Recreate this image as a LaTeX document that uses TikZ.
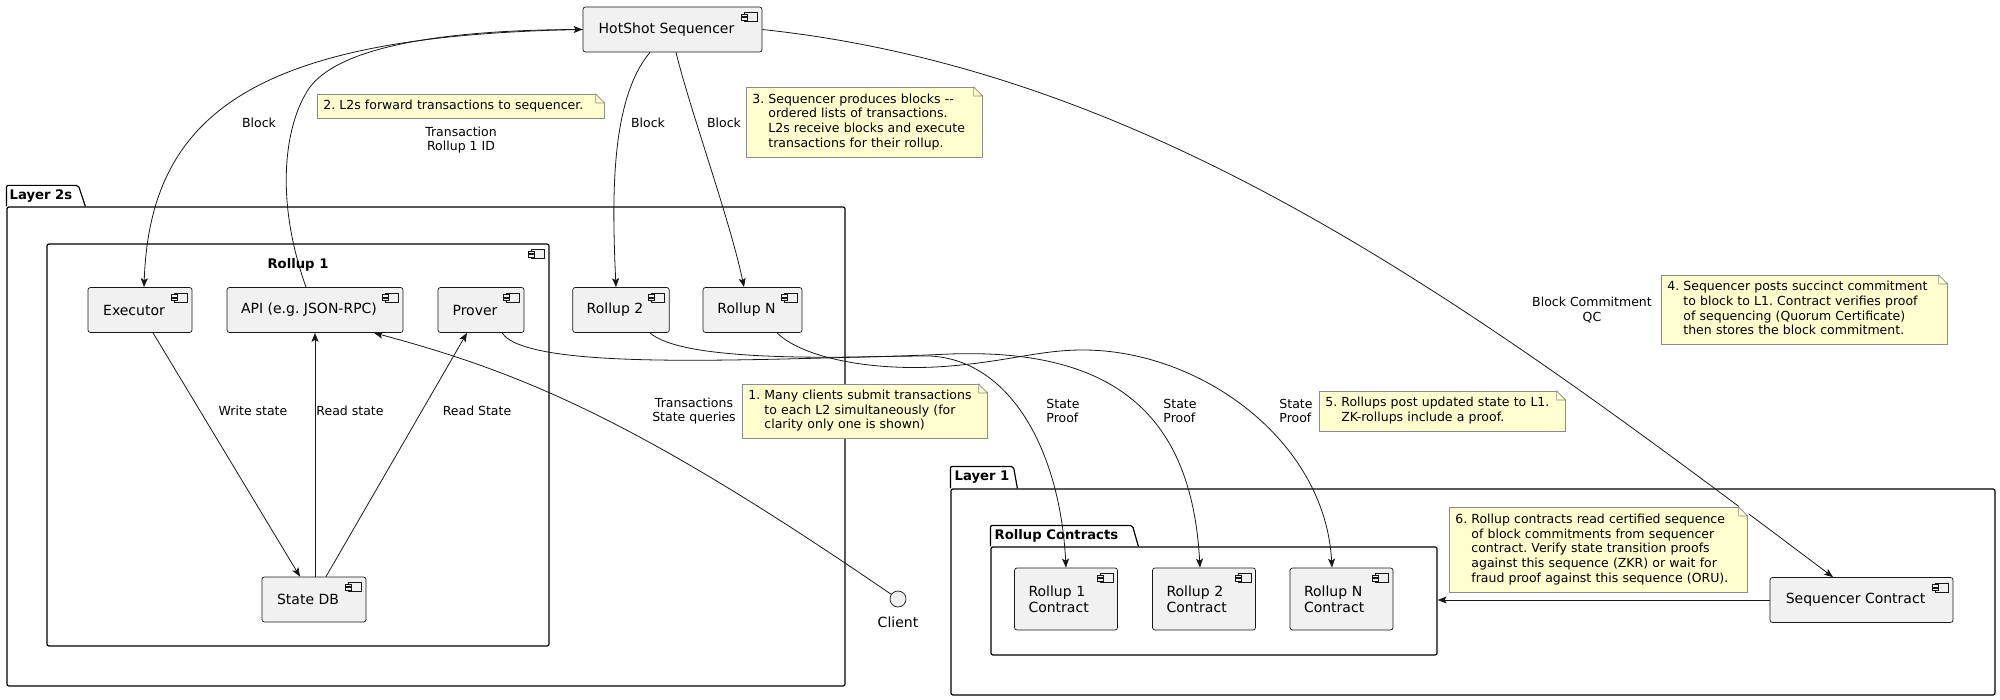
\documentclass[tikz,border=0pt]{standalone}
\usepackage{fontspec}
\setmainfont{DejaVu Sans}
\usepackage{xcolor}
\usetikzlibrary{calc, arrows.meta}

\definecolor{compfill}{HTML}{F1F1F1}
\definecolor{linecol}{HTML}{181818}
\definecolor{notefill}{HTML}{FEFECE}
\definecolor{notedraw}{HTML}{8C8C8C}

\newcommand{\compsize}{\fontsize{14}{16.4}\selectfont}
\newcommand{\notesize}{\fontsize{12.5}{14.7}\selectfont}
\newcommand{\titlesize}{\fontsize{13.2}{15}\selectfont\bfseries}

%% small component glyph in the top right corner of a box
\newcommand{\compicon}[1]{%
  \draw[linecol, line width=0.5pt, fill=compfill] ($(#1.north east)+(-18,6)$) rectangle ($(#1.north east)+(-5,15)$);
  \draw[linecol, line width=0.5pt, fill=compfill] ($(#1.north east)+(-21,7.5)$) rectangle ($(#1.north east)+(-15,10)$);
  \draw[linecol, line width=0.5pt, fill=compfill] ($(#1.north east)+(-21,11)$) rectangle ($(#1.north east)+(-15,13.5)$);
}

%% folded corner of a note
\newcommand{\notefold}[1]{%
  \fill[white] ($(#1.north east)+(-9,-1)$) -- ($(#1.north east)+(1,-1)$) -- ($(#1.north east)+(1,9)$) -- cycle;
  \draw[notedraw, line width=0.6pt, fill=notefill] ($(#1.north east)+(-9,0)$) -- ($(#1.north east)+(0,9)$) -- ($(#1.north east)+(-9,9)$) -- cycle;
}

\tikzset{
  compbase/.style={draw=linecol, fill=compfill, line width=0.7pt, rounded corners=2.5pt, font=\compsize},
  comp/.style={compbase, minimum height=45pt, inner xsep=20pt, execute at begin node=\hspace*{-6pt}, execute at end node=\hspace*{6pt}},
  contract/.style={compbase, minimum height=62pt, text width=75pt, inner xsep=14pt, align=left},
  frame/.style={draw=black, line width=1.2pt, rounded corners=2pt, inner sep=0pt},
  pkgline/.style={draw=black, line width=1.2pt, rounded corners=2pt},
  pkgtitle/.style={font=\titlesize, anchor=west, inner sep=0pt},
  note/.style={draw=notedraw, fill=notefill, line width=0.6pt, anchor=north west, inner xsep=6pt, inner ysep=3pt, align=left, font=\notesize},
  lbl/.style={font=\notesize, align=center, inner sep=0pt},
  flow/.style={draw=linecol, line width=0.8pt, -{Stealth[length=9pt, width=7pt, inset=2pt]}}
}

\begin{document}
\frenchspacing
\begin{tikzpicture}[x=1pt, y=-1pt]

        \useasboundingbox (0,0) rectangle (2000,700);

        %% Packages
        \node (l2) [frame, minimum width=838pt, minimum height=479pt] at (426,446.5) {};
        \draw [pkgline] (l2.north west) -- ($(l2.north west)+(0,-21)$) -- ($(l2.north west)+(72,-21)$) -- ($(l2.north west)+(79,0)$);
        \node (l2title) [pkgtitle] at ($(l2.north west)+(3,-10.5)$) {Layer 2s};

        \node (l1) [frame, minimum width=1044pt, minimum height=206pt] at (1473,592) {};
        \draw [pkgline] (l1.north west) -- ($(l1.north west)+(0,-22)$) -- ($(l1.north west)+(63,-22)$) -- ($(l1.north west)+(67,0)$);
        \node (l1title) [pkgtitle] at ($(l1.north west)+(4,-11)$) {Layer 1};

        \node (rc) [frame, minimum width=446pt, minimum height=108pt] at (1214,601) {};
        \draw [pkgline] (rc.north west) -- ($(rc.north west)+(0,-21)$) -- ($(rc.north west)+(142,-21)$) -- ($(rc.north west)+(148,0)$);
        \node (rctitle) [pkgtitle] at ($(rc.north west)+(4,-10.5)$) {Rollup Contracts};

        %% Rollup 1 component
        \node (r1) [frame, minimum width=502pt, minimum height=402pt] at (298,445) {};
        \compicon{r1}
        \node (r1title) [font=\titlesize, inner sep=0pt] at (298,265) {Rollup 1};

        %% Components
        \node (hs) [comp, minimum width=179pt] at (672.5,29.5) {HotShot Sequencer};
        \node (exec) [comp, minimum width=104pt] at (140,310) {Executor};
        \node (api) [comp, minimum width=176pt] at (315,310) {API (e.g. JSON-RPC)};
        \node (prover) [comp, minimum width=86pt] at (481,310) {Prover};
        \node (r2) [comp, minimum width=96pt] at (621,310) {Rollup 2};
        \node (rN) [comp, minimum width=99pt] at (752.5,310) {Rollup N};
        \node (sdb) [comp, minimum width=104pt] at (314,599.5) {State DB};
        \node (sc) [comp, minimum width=183pt] at (1861.5,600) {Sequencer Contract};
        \node (c1) [contract] at (1066,599) {Rollup 1\\Contract};
        \node (c2) [contract] at (1204,599) {Rollup 2\\Contract};
        \node (cN) [contract] at (1341.5,599) {Rollup N\\Contract};
        \foreach \c in {hs, exec, api, prover, r2, rN, sdb, sc, c1, c2, cN} {
            \compicon{\c}
        }

        %% Client
        \node (client) [circle, draw=linecol, fill=compfill, line width=0.7pt, minimum size=16pt, inner sep=0pt] at (898,599) {};
        \node (clientlbl) [font=\compsize, inner sep=0pt] at (898,622) {Client};

        %% Sequencer links
        \draw [flow] ($(api.north)+(-9,0)$) .. controls (275,200) and (285,130) .. (305,95) .. controls (330,45) and (450,30) .. (hs.west);
        \draw [flow] (hs.west) .. controls (260,35) and (150,110) .. ($(exec.north)+(4,0)$);
        \draw [flow] ($(hs.south)+(-22.5,0)$) .. controls (610,100) and (612,200) .. ($(r2.north)+(-5,0)$);
        \draw [flow] ($(hs.south)+(3.5,0)$) .. controls (690,110) and (730,220) .. ($(rN.north)+(-8.5,0)$);
        \draw [flow] (hs.east) .. controls (1162,72) and (1483,314) .. ($(sc.north)+(-28.5,0)$);

        %% Inside Rollup 1
        \draw [flow] ($(exec.south)+(13,0)$) -- ($(sdb.north)+(-14,0)$);
        \draw [flow] (api.south |- sdb.north) -- (api.south);
        \draw [flow] ($(sdb.north)+(12,0)$) -- ($(prover.south)+(-14,0)$);

        %% Client requests
        \draw [flow] (client) .. controls (640,422) and (524,373) .. ($(api.south)+(59,0)$);

        %% State proofs
        \draw [flow] ($(prover.south)+(21,0)$) .. controls (530,375) and (800,356) .. (930,356) .. controls (1010,360) and (1060,450) .. (c1.north);
        \draw [flow] ($(r2.south)+(29,0)$) .. controls (680,360) and (820,360) .. (950,354) .. controls (1120,348) and (1192,420) .. ($(c2.north)+(-4,0)$);
        \draw [flow] ($(rN.south)+(24.5,0)$) .. controls (805,360) and (880,372) .. (950,366) .. controls (1010,361) and (1040,350) .. (1083,350) .. controls (1200,350) and (1325,440) .. ($(cN.north)+(-9.5,0)$);

        %% Sequencer contract to rollup contracts
        \draw [flow] (sc.west) -- (sc.west -| rc.east);

        %% Labels
        \node (lblblk1) [lbl] at (259,123) {Block};
        \node (lbltx) [lbl] at (461,140) {Transaction\\Rollup 1 ID};
        \node (lblblk2) [lbl] at (648,123) {Block};
        \node (lblblkN) [lbl] at (724,123) {Block};
        \node (lblbc) [lbl] at (1592,310) {Block Commitment\\QC};
        \node (lblwr) [lbl] at (253,411) {Write state};
        \node (lblrd) [lbl] at (350,411) {Read state};
        \node (lblrds) [lbl] at (477,411) {Read State};
        \node (lbltq) [lbl] at (694,411) {Transactions\\State queries};
        \node (lblsp1) [lbl, align=left] at (1063,411) {State\\Proof};
        \node (lblsp2) [lbl, align=left] at (1180,411) {State\\Proof};
        \node (lblspN) [lbl, align=left] at (1296,411) {State\\Proof};

        %% Notes
        \node (n1) [note, text width=233pt, minimum height=54pt] at (742,384) {1.\ \begin{tabular}[t]{@{}l@{}}Many clients submit transactions\\to each L2 simultaneously (for\\clarity only one is shown)\end{tabular}};
        \notefold{n1}
        \node (n2) [note, text width=275pt, minimum height=24pt] at (317,94) {2. L2s forward transactions to sequencer.};
        \notefold{n2}
        \node (n3) [note, text width=224pt, minimum height=70pt] at (746,87) {3.\ \begin{tabular}[t]{@{}l@{}}Sequencer produces blocks -{}-\\ordered lists of transactions.\\L2s receive blocks and execute\\transactions for their rollup.\end{tabular}};
        \notefold{n3}
        \node (n4) [note, text width=274pt, minimum height=69pt] at (1661,275) {4.\ \begin{tabular}[t]{@{}l@{}}Sequencer posts succinct commitment\\to block to L1. Contract verifies proof\\of sequencing (Quorum Certificate)\\then stores the block commitment.\end{tabular}};
        \notefold{n4}
        \node (n5) [note, text width=234pt, minimum height=40pt] at (1319,391) {5.\ \begin{tabular}[t]{@{}l@{}}Rollups post updated state to L1.\\ZK-rollups include a proof.\end{tabular}};
        \notefold{n5}
        \node (n6) [note, text width=286pt, minimum height=85pt] at (1449,507) {6.\ \begin{tabular}[t]{@{}l@{}}Rollup contracts read certified sequence\\of block commitments from sequencer\\contract. Verify state transition proofs\\against this sequence (ZKR) or wait for\\fraud proof against this sequence (ORU).\end{tabular}};
        \notefold{n6}

\end{tikzpicture}
\end{document}
